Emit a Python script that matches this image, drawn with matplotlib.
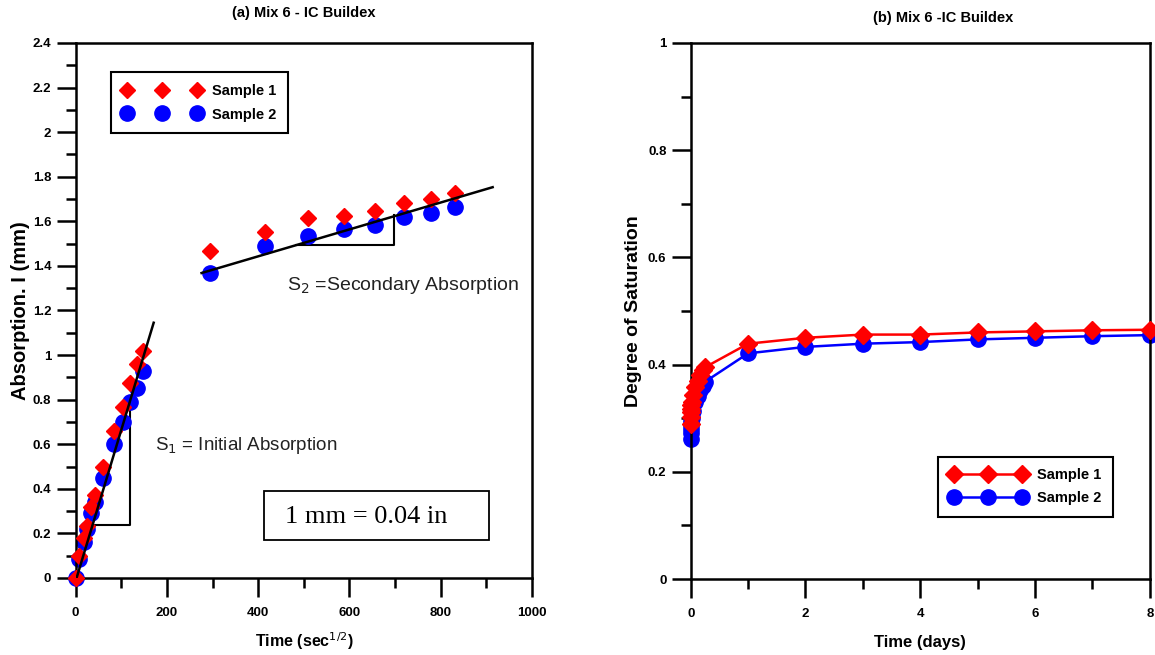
import numpy as np
import matplotlib
matplotlib.use("Agg")
import matplotlib.pyplot as plt
from matplotlib.patches import Rectangle

plt.rcParams['font.family'] = ['Liberation Sans', 'DejaVu Sans']

# ---- (a) absorption vs sqrt(time)
t_sqrt = [0, 7.7, 17.3, 24.5, 34.6, 42.4, 60.0, 84.9, 103.9, 120.0, 134.2, 147.0,
          294, 416, 509, 588, 657, 720, 778, 831]
abs_s1 = [0.0, 0.10, 0.18, 0.235, 0.32, 0.37, 0.50, 0.66, 0.765, 0.876, 0.96, 1.02,
          1.465, 1.554, 1.616, 1.624, 1.646, 1.683, 1.698, 1.725]
abs_s2 = [0.0, 0.086, 0.16, 0.22, 0.29, 0.34, 0.45, 0.60, 0.70, 0.79, 0.85, 0.93,
          1.368, 1.487, 1.535, 1.564, 1.584, 1.621, 1.636, 1.665]

# fitted slopes drawn on the figure (end points)
fit1_x = [2, 171]
fit1_y = [0.0, 1.145]
fit2_x = [276, 914]
fit2_y = [1.368, 1.753]
tri1_x = [36, 120, 120]
tri1_y = [0.238, 0.238, 0.80]
tri2_x = [484, 697, 697]
tri2_y = [1.494, 1.494, 1.630]

# ---- (b) degree of saturation vs days
t_days = [0, 0.0007, 0.0035, 0.0069, 0.0139, 0.0208, 0.0417, 0.0833, 0.125, 0.1667,
          0.2083, 0.25, 1, 2, 3, 4, 5, 6, 7, 8]
sat_s1 = [0.290, 0.303, 0.311, 0.317, 0.325, 0.330, 0.343, 0.359, 0.370, 0.381,
          0.389, 0.395, 0.439, 0.450, 0.456, 0.456, 0.460, 0.462, 0.464, 0.465]
sat_s2 = [0.262, 0.272, 0.280, 0.287, 0.295, 0.301, 0.314, 0.330, 0.342, 0.352,
          0.360, 0.368, 0.421, 0.433, 0.439, 0.442, 0.447, 0.450, 0.453, 0.455]

RED = '#ff0000'
BLUE = '#0000ff'

fig = plt.figure(figsize=(11.55, 6.55), dpi=100)
ax1 = fig.add_axes([0.0655, 0.1176, 0.395, 0.8168])
ax2 = fig.add_axes([0.598, 0.1160, 0.3975, 0.8184])


def style_axes(ax):
    for sp in ax.spines.values():
        sp.set_linewidth(1.8)
    ax.tick_params(which='both', direction='out', width=1.8, top=False, right=False,
                   labelsize=9.5)
    ax.tick_params(which='major', length=14)
    ax.tick_params(which='minor', length=7)
    ax.tick_params(axis='x', which='major', pad=7)
    for lab in ax.get_xticklabels() + ax.get_yticklabels():
        lab.set_fontweight('bold')


# ============ (a) ============
ax1.plot(fit1_x, fit1_y, color='black', lw=1.8, zorder=4)
ax1.plot(fit2_x, fit2_y, color='black', lw=1.8, zorder=4)
ax1.plot(tri1_x, tri1_y, color='black', lw=1.5, zorder=1)
ax1.plot(tri2_x, tri2_y, color='black', lw=1.5, zorder=1)
ax1.plot(t_sqrt, abs_s2, 'o', color=BLUE, ms=11, ls='none', label='Sample 2', zorder=2,
         clip_on=False)
ax1.plot(t_sqrt, abs_s1, 'D', color=RED, ms=8.5, ls='none', label='Sample 1', zorder=3,
         clip_on=False)

ax1.set_xlim(0, 1000)
ax1.set_ylim(0, 2.4)
ax1.set_xticks(np.arange(0, 1001, 200))
ax1.set_xticks(np.arange(100, 1000, 200), minor=True)
ax1.set_yticks(np.arange(0, 2.41, 0.2))
ax1.set_yticks(np.arange(0.1, 2.4, 0.2), minor=True)
ax1.set_xticklabels(['0', '200', '400', '600', '800', '1000'])
ax1.set_yticklabels(['0', '0.2', '0.4', '0.6', '0.8', '1', '1.2', '1.4', '1.6',
                     '1.8', '2', '2.2', '2.4'])
style_axes(ax1)
ax1.set_xlabel('Time (sec$^{1/2}$)', fontsize=11.5, fontweight='bold', labelpad=8)
ax1.set_ylabel('Absorption. I (mm)', fontsize=14.5, fontweight='bold', labelpad=2)
ax1.set_title('(a) Mix 6 - IC Buildex', fontsize=10.5, fontweight='bold', pad=19)

h, l = ax1.get_legend_handles_labels()
leg1 = ax1.legend(h[::-1], l[::-1], loc='upper left', bbox_to_anchor=(0.077, 0.945),
                  borderaxespad=0, numpoints=3, fancybox=False, edgecolor='black',
                  framealpha=1, prop={'weight': 'bold', 'size': 10.5},
                  handlelength=5.4, handletextpad=0.72, borderpad=0.8,
                  labelspacing=0.65)
leg1.get_frame().set_linewidth(1.5)

ax1.text(463, 1.31, 'S$_2$ =Secondary Absorption', fontsize=14, color='#222222',
         va='center', ha='left')
ax1.text(173, 0.595, 'S$_1$ = Initial Absorption', fontsize=13.5, color='#222222',
         va='center', ha='left')
ax1.add_patch(Rectangle((0.413, 0.071), 0.493, 0.092, transform=ax1.transAxes,
                        fill=False, lw=1.3, ec='black'))
ax1.text(0.459, 0.114, '1 mm = 0.04 in', transform=ax1.transAxes,
         family=['Liberation Serif', 'DejaVu Serif'], fontsize=19, va='center', ha='left')

# ============ (b) ============
ax2.plot(t_days, sat_s1, '-D', color=RED, lw=1.8, ms=9, label='Sample 1', zorder=3,
         clip_on=False)
ax2.plot(t_days, sat_s2, '-o', color=BLUE, lw=1.8, ms=11, label='Sample 2', zorder=2,
         clip_on=False)
ax2.set_xlim(0, 8)
ax2.set_ylim(0, 1)
ax2.set_xticks([0, 2, 4, 6, 8])
ax2.set_xticks([1, 3, 5, 7], minor=True)
ax2.set_yticks([0, 0.2, 0.4, 0.6, 0.8, 1])
ax2.set_yticks([0.1, 0.3, 0.5, 0.7, 0.9], minor=True)
ax2.set_xticklabels(['0', '2', '4', '6', '8'])
ax2.set_yticklabels(['0', '0.2', '0.4', '0.6', '0.8', '1'])
style_axes(ax2)
ax2.set_xlabel('Time (days)', fontsize=12, fontweight='bold', labelpad=11)
ax2.set_ylabel('Degree of Saturation', fontsize=14, fontweight='bold', labelpad=4)
ax2.set_title('(b) Mix 6 -IC Buildex', fontsize=10.5, fontweight='bold', pad=15, x=0.55)

leg2 = ax2.legend(loc='upper left', bbox_to_anchor=(0.538, 0.228), borderaxespad=0,
                  numpoints=3, fancybox=False, edgecolor='black', framealpha=1,
                  prop={'weight': 'bold', 'size': 10.5}, handlelength=5.3,
                  handletextpad=0.7, borderpad=0.8, labelspacing=0.6)
leg2.get_frame().set_linewidth(1.5)

fig.savefig('out.png', dpi=100)
